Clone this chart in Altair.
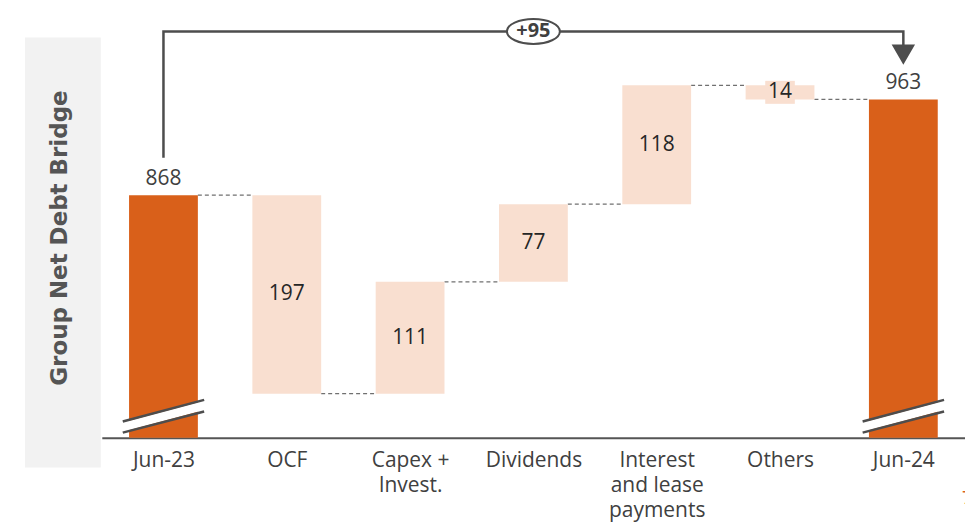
import json
import altair as alt
import pandas as pd

# ---------------- data ----------------
categories = ["Jun-23", "OCF", "Capex +\nInvest.", "Dividends",
              "Interest\nand lease\npayments", "Others", "Jun-24"]
values = [868, -197, 111, 77, 118, -14, 963]
kinds = ["total", "change", "change", "change", "change", "change", "total"]
title_text = "Group Net Debt Bridge"
page_number = "7"

# ---------------- style ----------------
ORANGE = "#D9601A"
PEACH = "#F9DFD0"
DARK = "#4D4D4D"
TEXT = "#404040"
FONT = "Open Sans"

AXIS_BASE = 627.4          # value at the (broken) axis line
PX_PER_UNIT = 1.01
PLOT_W, PLOT_H = 865, 430
Y_TOP = AXIS_BASE + PLOT_H / PX_PER_UNIT
HW = 0.279                 # half bar width in category steps

# ---------------- tables ----------------
rows = []
running = 0
for i, (c, v, k) in enumerate(zip(categories, values, kinds)):
    if k == "total":
        start, end = AXIS_BASE, v
        running = v
    else:
        start, end = running, running + v
        running = end
    rows.append(dict(idx=i, cat=c, start=start, end=end, kind=k,
                     label=str(abs(v)), mid=(start + end) / 2))
df = pd.DataFrame(rows)

conn = pd.DataFrame([dict(idx=r["idx"], level=r["end"]) for r in rows[:-1]])
totals = df[df.kind == "total"].reset_index(drop=True)

bridge = values[-1] - values[0]
bridge_label = f"+{bridge}" if bridge >= 0 else str(bridge)
ARROW_Y = 1030.4
arrow = pd.DataFrame({
    "order": [0, 1, 2, 3],
    "idx": [0, 0, len(values) - 1, len(values) - 1],
    "y": [values[0] + 37, ARROW_Y, ARROW_Y, values[-1] + 45],
})
arrow_head = arrow.iloc[[3]]
badge = pd.DataFrame({"idx": [(len(values) - 1) / 2], "y": [ARROW_Y], "label": [bridge_label]})
one = pd.DataFrame({"a": [0]})

# ---------------- scales / axis ----------------
xs = alt.Scale(domain=[-0.5, len(values) - 0.5], nice=False, zero=False, padding=0)
ys = alt.Scale(domain=[AXIS_BASE, Y_TOP], nice=False, zero=False, padding=0)
label_lines = json.dumps([c.split("\n") for c in categories])
xaxis = alt.Axis(values=list(range(len(values))), labelExpr=f"{label_lines}[datum.value]",
                 ticks=False, grid=False, domainColor="#555555", domainWidth=2,
                 labelFont=FONT, labelFontSize=21, labelColor=TEXT, labelPadding=12,
                 labelLineHeight=25, labelOverlap=False, labelFlush=False, title=None)


def X(f):
    return alt.X(f, type="quantitative", scale=xs, axis=xaxis)


def Y(f):
    return alt.Y(f, type="quantitative", scale=ys, axis=None)


# title panel
panel = alt.Chart(one).mark_rect(fill="#F2F2F2").encode(
    x=alt.value(-77), x2=alt.value(-1), y=alt.value(29), y2=alt.value(460))
panel_text = alt.Chart(one).mark_text(
    text=title_text, angle=270, font="DejaVu Sans", fontSize=23, fontWeight="bold",
    color="#555555", align="center", baseline="alphabetic").encode(
    x=alt.value(-35), y=alt.value(230))

bars = alt.Chart(df).transform_calculate(
    x0=f"datum.idx - {HW}", x1=f"datum.idx + {HW}").mark_rect().encode(
    x=X("x0"), x2="x1", y=Y("start"), y2="end",
    color=alt.Color("kind:N", scale=alt.Scale(domain=["total", "change"], range=[ORANGE, PEACH]),
                    legend=None))

connectors = alt.Chart(conn).transform_calculate(
    x0=f"datum.idx + {HW}", x1=f"datum.idx + 1 - {HW}").mark_rule(
    color="#707070", strokeWidth=1.2, strokeDash=[4, 3]).encode(
    x=X("x0"), x2="x1", y=Y("level"))

# axis-break marks on the total bars
brk_white = alt.Chart(totals).transform_calculate(
    x0="datum.idx - 0.33", x1="datum.idx + 0.33",
    y0=f"{AXIS_BASE} + 10.5", y1=f"{AXIS_BASE} + 32").mark_rule(
    color="white", strokeWidth=9, strokeCap="butt").encode(
    x=X("x0"), x2="x1", y=Y("y0"), y2="y1")
brk_lo = alt.Chart(totals).transform_calculate(
    x0="datum.idx - 0.33", x1="datum.idx + 0.33",
    y0=f"{AXIS_BASE} + 5", y1=f"{AXIS_BASE} + 26").mark_rule(
    color=DARK, strokeWidth=2.5).encode(x=X("x0"), x2="x1", y=Y("y0"), y2="y1")
brk_hi = alt.Chart(totals).transform_calculate(
    x0="datum.idx - 0.33", x1="datum.idx + 0.33",
    y0=f"{AXIS_BASE} + 16", y1=f"{AXIS_BASE} + 37.5").mark_rule(
    color=DARK, strokeWidth=2.5).encode(x=X("x0"), x2="x1", y=Y("y0"), y2="y1")

total_labels = alt.Chart(df).transform_filter("datum.kind == 'total'").mark_text(
    font=FONT, fontSize=21, color=TEXT, baseline="alphabetic", dy=-10).encode(
    x=X("idx"), y=Y("end"), text="label:N")

small_bg = alt.Chart(df).transform_filter(
    "datum.kind == 'change' && abs(datum.end - datum.start) < 25").transform_calculate(
    x0="datum.idx - 0.12", x1="datum.idx + 0.12",
    y0="datum.mid - 11.4", y1="datum.mid + 11.4").mark_rect(fill=PEACH).encode(
    x=X("x0"), x2="x1", y=Y("y0"), y2="y1")

change_labels = alt.Chart(df).transform_filter("datum.kind == 'change'").mark_text(
    font=FONT, fontSize=21, color="#262626", baseline="middle").encode(
    x=X("idx"), y=Y("mid"), text="label:N")

arrow_line = alt.Chart(arrow).mark_line(color=DARK, strokeWidth=2.5).encode(
    x=X("idx"), y=Y("y"), order="order:Q")
arrow_tip = alt.Chart(arrow_head).mark_point(
    shape="triangle-down", size=400, filled=True, fill=DARK, stroke=DARK, opacity=1).encode(
    x=X("idx"), y=Y("y"))

ELLIPSE = "M -1 0 A 1 0.47 0 1 1 1 0 A 1 0.47 0 1 1 -1 0 Z"
badge_shape = alt.Chart(badge).mark_point(
    shape=ELLIPSE, size=2809, filled=True, fill="white", stroke=DARK,
    strokeWidth=2, opacity=1, fillOpacity=1).encode(x=X("idx"), y=Y("y"))
badge_text = alt.Chart(badge).mark_text(
    font=FONT, fontSize=20, fontWeight="bold", color=TEXT, baseline="middle").encode(
    x=X("idx"), y=Y("y"), text="label:N")

page_no = alt.Chart(one).mark_text(
    text=page_number, font=FONT, fontSize=18, color=ORANGE, align="left",
    baseline="alphabetic").encode(x=alt.value(PLOT_W - 3), y=alt.value(497))

chart = alt.layer(
    panel, panel_text, connectors, bars, small_bg, brk_white, brk_lo, brk_hi,
    total_labels, change_labels, arrow_line, arrow_tip, badge_shape, badge_text, page_no
).properties(
    width=PLOT_W, height=PLOT_H,
    autosize=alt.AutoSizeParams(type="none"),
    padding={"left": 94, "top": 0, "right": 0, "bottom": 84},
).configure_view(stroke=None)

chart.save("out.html", embed_options={"renderer": "svg", "actions": False})
